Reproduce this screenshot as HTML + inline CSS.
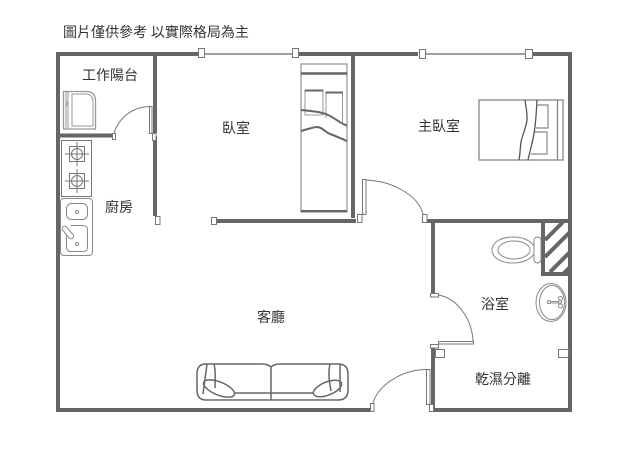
<!DOCTYPE html>
<html><head><meta charset="utf-8">
<style>html,body{margin:0;padding:0;background:#fff}svg{display:block}
text{font-family:"Liberation Sans","Noto Sans CJK TC",sans-serif;fill:#333;font-size:14px}</style></head>
<body>
<svg width="638" height="460" viewBox="0 0 638 460" xmlns="http://www.w3.org/2000/svg">
<!-- hatching -->
<g stroke="#666" stroke-width="4" fill="none">
<path d="M545 240L563 222M545 257L570 232M550 272L570 252M563 274L570 267"/>
</g>
<!-- walls -->
<g stroke="#666" stroke-width="4" fill="none">
<path d="M58 52V412M56 54H198M299 54H418M533 54H572M570 52V412M155 54V133M155 136V216M58 135.500H112M353 54V218M216 221H356M427 221H570M433 221V293M433 348V412M433 410H572M56 410H370"/>
<path d="M543 221V274H572" stroke-width="4"/>
</g>
<!-- windows -->
<g stroke="#666" stroke-width="1" fill="none">
<path d="M205 54H292M426 54H525" stroke-width="1.200"/>
</g>
<g fill="#fff" stroke="#777" stroke-width="1">
<rect x="198.500" y="48.500" width="6" height="9"/>
<rect x="292.500" y="48.500" width="6" height="9"/>
<rect x="419.500" y="49.500" width="6" height="9"/>
<rect x="525.500" y="49.500" width="7" height="9"/>
<!-- door pieces -->
<rect x="112.500" y="133.500" width="3" height="6"/>
<rect x="149.500" y="106.500" width="2.500" height="27"/>
<rect x="152.500" y="133.500" width="3.500" height="7"/>
<rect x="155.500" y="216.500" width="4.500" height="8"/>
<rect x="211.500" y="217.500" width="5" height="7"/>
<rect x="362.500" y="179.500" width="3.500" height="35"/>
<rect x="357.500" y="214.500" width="4.500" height="8"/>
<rect x="422.500" y="214.500" width="4.500" height="8"/>
<rect x="430.500" y="293.500" width="8" height="3.500"/>
<rect x="438.500" y="341.500" width="35" height="2.500"/>
<rect x="430.500" y="344.500" width="8" height="3.500"/>
<rect x="435.500" y="349.500" width="9" height="8"/>
<rect x="558.500" y="349.500" width="10" height="8"/>
<rect x="426.500" y="369.500" width="3.500" height="35"/>
<rect x="429.500" y="404.500" width="4" height="7"/>
<rect x="370.500" y="403.500" width="3.500" height="8"/>
</g>
<!-- door arcs -->
<g stroke="#777" stroke-width="1" fill="none">
<path d="M114 133C119 118 132 107 149 106.500"/>
<path d="M366 180C392 181 418 195 423 214"/>
<path d="M438 295C458 298 472 320 473 341"/>
<path d="M426 369.500C400 370 378 386 373 403"/>
</g>
<!-- washer -->
<g stroke="#999" stroke-width="1.300" fill="none">
<path d="M63.500 91.500H86Q95.500 91.500 95.500 101V129H63.500Z"/>
<path d="M72 94H85Q93 94 93 102V126H72Z" stroke-width="1"/>
<path d="M66 91.500V129M68 91.500V129"  stroke-width="1"/>
<path d="M67 101V106" stroke-width="2" stroke="#aaa"/>
</g>
<!-- stove -->
<g stroke="#777" stroke-width="1" fill="none">
<rect x="61.500" y="140.500" width="30" height="56"/>
<rect x="69.500" y="146.500" width="15" height="15"/>
<circle cx="77" cy="154" r="5.500"/>
<path d="M77 142V166M65 154H89"/>
<rect x="69.500" y="173.500" width="15" height="15"/>
<circle cx="77" cy="181" r="5.500"/>
<path d="M77 169V193M65 181H89"/>
</g>
<!-- kitchen sink -->
<g stroke="#888" stroke-width="1" fill="none">
<rect x="60.500" y="198.500" width="32" height="57" rx="3.500"/>
<rect x="66.500" y="203.500" width="21" height="16" rx="5"/>
<path d="M71 225.500H83Q87.500 225.500 87.500 230V247Q87.500 251.500 83 251.500H71Q66.500 251.500 66.500 247V232"/>
<circle cx="77" cy="212" r="1.500"/><circle cx="77" cy="244" r="1.500"/>
<rect x="62" y="226.500" width="15" height="5" rx="2.500" transform="rotate(50 65 229)" fill="#fff"/>
</g>
<!-- small bed -->
<g fill="none" stroke="#999" stroke-width="1.300">
<rect x="301" y="64" width="46" height="148"/>
<rect x="305" y="90" width="18" height="25" stroke-width="1"/>
<path d="M326 93V118M342.500 93V122" stroke-width="1"/>
</g>
<g fill="none" stroke="#666">
<path d="M301 73.500H347" stroke-width="2.500"/>
<path d="M301 211H347" stroke-width="2"/>
<path d="M305 90.500H323M325.500 92.500H343" stroke-width="2"/>
<path d="M301 110C312 111 322 112 328 115C335 118 341 124 347 125.500" stroke-width="2" fill="none"/>
<path d="M301 131C308 129 314 127 317 127C322 127 325 132 330 134C336 136 342 139 347 141" stroke-width="2"/>
</g>
<!-- master bed -->
<g fill="none" stroke="#888" stroke-width="1.300">
<rect x="479" y="100" width="84" height="60"/>
<path d="M557.500 100V160"/>
<path d="M537 105H548V128H536" stroke-width="1.200"/>
<path d="M534 132H547V154H531" stroke-width="1.200"/>
</g>
<g fill="none" stroke="#555" stroke-width="1.300">
<path d="M525 100C526 108 527.500 114 527 120C526 128 522 136 521 142C520 150 520 155 519 160"/>
<path d="M537 100C536.500 110 536 120 534.500 130C533.500 140 530 150 528 160"/>
</g>
<!-- toilet -->
<g fill="none" stroke="#888" stroke-width="1">
<rect x="534" y="237" width="7" height="26" rx="3.500" fill="#fff"/>
<path d="M534 246C530 240 522 237 513 237C500 237 492 243 492 250C492 257 500 263 513 263C522 263 530 260 534 254"/>
<ellipse cx="514" cy="250" rx="16" ry="9"/>
</g>
<!-- wash sink -->
<g fill="none" stroke="#888" stroke-width="1">
<ellipse cx="551" cy="302.500" rx="15" ry="19"/>
<ellipse cx="552" cy="302.500" rx="12.500" ry="17"/>
<circle cx="549" cy="302" r="1.500"/>
<circle cx="560.500" cy="298.500" r="2"/><circle cx="560.500" cy="306" r="2"/>
<path d="M550.500 301.500H559M550.500 303H559"/>
<circle cx="560" cy="302" r="1.500"/>
</g>
<!-- sofa -->
<g fill="none" stroke="#666" stroke-width="1.500">
<path d="M206 364H262Q268 364 271 367Q274 364 280 364H338Q348 364 348 374V390Q348 400 338 400H206Q197 400 197 390V374Q197 364 206 364Z"/>
<path d="M271 367V400"/>
<path d="M203 394L207 364M214 364C216 372 215 378 215 388M340 364V392M330 364C328 372 329 380 331 391" />
<ellipse cx="219" cy="388.500" rx="16.500" ry="6.500" transform="rotate(22 219 388.500)"/>
<ellipse cx="327.500" cy="388.500" rx="15" ry="6.500" transform="rotate(-22 327.500 388.500)"/>
<path d="M235 393H314"/>
</g>
<!-- labels -->
<text x="63" y="37">圖片僅供參考 以實際格局為主</text>
<text x="82" y="80">工作陽台</text>
<text x="105" y="212">廚房</text>
<text x="222" y="133">臥室</text>
<text x="418" y="131">主臥室</text>
<text x="257" y="322">客廳</text>
<text x="481" y="309">浴室</text>
<text x="475" y="384">乾濕分離</text>
</svg>
</body></html>
